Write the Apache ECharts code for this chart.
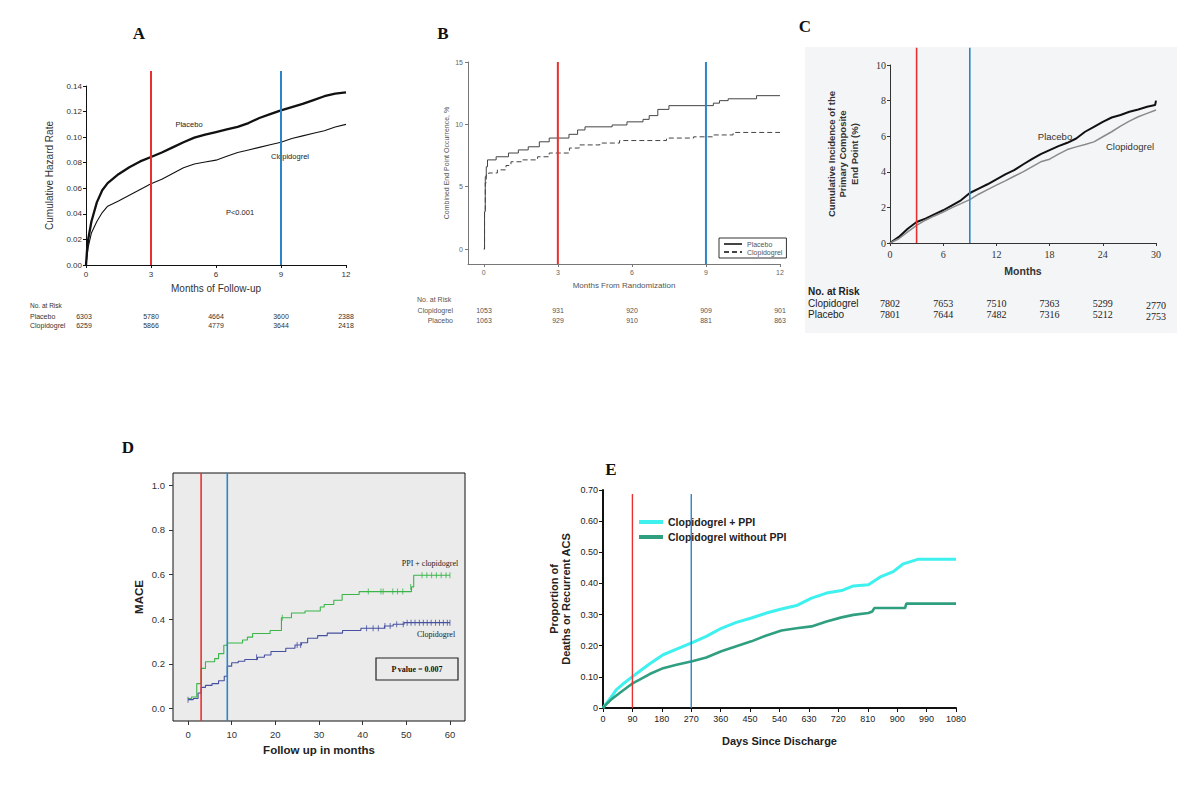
<!DOCTYPE html>
<html>
<head>
<meta charset="utf-8">
<script src="https://cdn.jsdelivr.net/npm/echarts@6/dist/echarts.min.js"></script>
<style>
  html, body { margin: 0; background: #fff; }
  #chart { width: 1200px; height: 785px; }
</style>
</head>
<body>
<div id="chart"></div>
<script>
// reference marks (months / days)
const refMonths = [3, 9]
const refDays = [90, 270]

// A: cumulative hazard rate
const aPlacebo = [[0,0],[0.05,0.012],[0.1,0.02],[0.25,0.034],[0.5,0.049],[0.75,0.0585],[1,0.064],[1.5,0.071],[2,0.0765],[2.5,0.081],[3,0.0845],[3.5,0.088],[4,0.092],[4.5,0.096],[5,0.0996],[5.5,0.102],[6,0.104],[6.5,0.106],[7,0.108],[7.5,0.111],[8,0.115],[8.5,0.118],[9,0.121],[9.5,0.1235],[10,0.126],[10.5,0.129],[11,0.132],[11.5,0.134],[12,0.135]]
const aClopidogrel = [[0,0],[0.05,0.007],[0.1,0.014],[0.25,0.025],[0.5,0.034],[0.75,0.041],[1,0.046],[1.5,0.05],[2,0.0545],[2.5,0.059],[3,0.0635],[3.5,0.067],[4,0.0715],[4.5,0.076],[5,0.079],[5.5,0.0805],[6,0.082],[6.5,0.085],[7,0.088],[7.5,0.09],[8,0.092],[8.5,0.094],[9,0.096],[9.5,0.099],[10,0.101],[10.5,0.103],[11,0.105],[11.5,0.108],[12,0.11]]
const aRiskPlacebo = ['6303', '5780', '4664', '3600', '2388']
const aRiskClopidogrel = ['6259', '5866', '4779', '3644', '2418']

// B: combined end point occurrence (%), step curves
const bPlacebo = [[0,0],[0.03,3.0],[0.06,5.8],[0.1,6.6],[0.15,7.15],[0.5,7.4],[1.0,7.7],[1.4,7.95],[1.8,8.2],[2.25,8.6],[2.65,8.9],[3.45,9.2],[3.8,9.55],[4.1,9.8],[5.2,9.95],[5.8,10.2],[6.45,10.4],[6.7,10.7],[7.05,11.2],[7.5,11.5],[9.3,11.7],[9.55,11.9],[9.9,12.05],[11.05,12.3],[12,12.3]]
const bClopidogrel = [[0,0],[0.03,3.0],[0.06,5.3],[0.1,5.95],[0.2,6.1],[0.55,6.35],[0.9,6.7],[1.1,7.0],[1.57,7.15],[2.18,7.4],[2.65,7.7],[3.47,8.1],[3.87,8.35],[4.7,8.5],[5.5,8.7],[7.4,8.9],[8.5,9.0],[9.3,9.15],[10.1,9.35],[12,9.35]]
const bTicksX = [0, 3, 6, 9, 12]
const bTicksY = [0, 5, 10, 15]
const bRiskClopidogrel = ['1053', '931', '920', '909', '901']
const bRiskPlacebo = ['1063', '929', '910', '881', '863']

// C: cumulative incidence of primary composite end point (%)
const cPlacebo = [[0,0],[1,0.34],[2,0.8],[3,1.18],[4,1.37],[5,1.61],[6,1.84],[7,2.12],[8,2.4],[9,2.81],[10,3.06],[11,3.3],[12,3.58],[13,3.85],[14,4.09],[15,4.41],[16,4.71],[17,4.99],[18,5.22],[19,5.44],[20,5.63],[21,5.87],[22,6.25],[23,6.53],[24,6.81],[25,7.05],[26,7.19],[27,7.37],[28,7.5],[29,7.65],[29.9,7.75],[30,8.0]]
const cClopidogrel = [[0,0],[1,0.24],[2,0.62],[3,0.99],[4,1.28],[5,1.52],[6,1.74],[7,1.99],[8,2.21],[9,2.44],[10,2.74],[11,3.0],[12,3.25],[13,3.49],[14,3.75],[15,4.0],[16,4.28],[17,4.56],[18,4.71],[19,4.99],[20,5.25],[21,5.4],[22,5.53],[23,5.68],[24,5.97],[25,6.25],[26,6.57],[27,6.85],[28,7.09],[29,7.28],[30,7.47]]
const cRiskClopidogrel = ['7802', '7653', '7510', '7363', '5299', '2770']
const cRiskPlacebo = ['7801', '7644', '7482', '7316', '5212', '2753']

// D: MACE, Kaplan-Meier step curves with censor marks
const dPpi = [[0,0.045],[0.8,0.052],[2,0.112],[3,0.18],[4,0.21],[6.1,0.224],[7,0.246],[8.2,0.284],[9,0.294],[12.5,0.307],[13.6,0.32],[14.8,0.336],[18.8,0.35],[21.4,0.407],[23.7,0.428],[26.8,0.437],[30.3,0.455],[31.2,0.466],[33.4,0.485],[35.3,0.511],[39.2,0.524],[51.2,0.545],[51.7,0.597],[60,0.597]]
const dClopidogrel = [[0,0.04],[1.2,0.045],[2.3,0.07],[3,0.095],[4,0.104],[5.5,0.112],[7,0.125],[8.3,0.145],[9,0.19],[10,0.205],[11.5,0.212],[13,0.22],[15.9,0.23],[17.5,0.24],[19,0.256],[22.4,0.27],[24.5,0.285],[26,0.295],[27.4,0.315],[29.7,0.327],[31.9,0.338],[35.4,0.35],[39.6,0.36],[45,0.37],[47,0.378],[49.5,0.385],[60,0.385]]
const dPpiCensor = [[21.6,0.407],[41.3,0.524],[44.2,0.524],[44.7,0.524],[46.9,0.524],[48.0,0.524],[49.2,0.524],[51.0,0.545],[53.6,0.597],[54.7,0.597],[55.8,0.597],[56.9,0.597],[58.0,0.597],[59.1,0.597],[60,0.597]]
const dClopidogrelCensor = [[0,0.04],[15.7,0.23],[25,0.285],[25.8,0.285],[40.9,0.36],[42.4,0.36],[43.6,0.36],[45.1,0.37],[46.3,0.37],[47.8,0.378],[49.3,0.378],[50.2,0.385],[51.1,0.385],[52,0.385],[53,0.385],[53.9,0.385],[54.8,0.385],[55.7,0.385],[56.7,0.385],[57.6,0.385],[58.5,0.385],[59.4,0.385],[60,0.385]]
const dTicksX = [0, 10, 20, 30, 40, 50, 60]
const dTicksY = [0, 0.2, 0.4, 0.6, 0.8, 1.0]

// E: proportion of deaths or recurrent ACS
const ePpi = [[0,0],[10,0.015],[25,0.035],[41,0.059],[61,0.077],[89,0.1],[112,0.118],[143,0.142],[184,0.171],[225,0.189],[273,0.21],[316,0.23],[362,0.256],[408,0.275],[454,0.289],[500,0.305],[546,0.318],[592,0.329],[638,0.353],[684,0.369],[730,0.377],[766,0.392],[812,0.396],[847,0.42],[888,0.438],[919,0.463],[965,0.478],[1080,0.478]]
const eNoPpi = [[0,0],[10,0.012],[25,0.027],[41,0.04],[61,0.056],[89,0.078],[112,0.091],[143,0.109],[184,0.128],[225,0.139],[273,0.15],[316,0.162],[362,0.182],[408,0.198],[454,0.214],[500,0.233],[546,0.249],[592,0.256],[638,0.262],[684,0.278],[730,0.291],[766,0.299],[812,0.305],[824,0.31],[830,0.321],[924,0.321],[928,0.335],[1080,0.335]]

const RED = '#e8302f'
const BLUE = '#2a86c9'
const SANS = 'Liberation Sans'
const SERIF = 'Liberation Serif'

const chart = echarts.init(document.getElementById('chart'), null, { renderer: 'svg' })

const txt = (x, y, text, font, fill = '#222', align = 'left') => ({
  type: 'text', x, y, silent: true,
  style: { text, font, fill, align, verticalAlign: 'middle' },
})

const lineSeries = (name, idx, data, color, width, extra = {}) => ({
  type: 'line', name, xAxisIndex: idx, yAxisIndex: idx, data,
  symbol: 'none', smooth: false, silent: true,
  lineStyle: { color, width }, itemStyle: { color }, ...extra,
})

// vertical red / blue reference lines, drawn past the plot top where needed
const refSeries = (idx, values, y0, y1, width) => values.map((v, i) => lineSeries(
  `ref${idx}-${i}`, idx, [[v, y0], [v, y1]], i === 0 ? RED : BLUE, width, { clip: false, z: 4 }))

const censor = (name, idx, data, color) => ({
  type: 'scatter', name, xAxisIndex: idx, yAxisIndex: idx, data, silent: true,
  symbol: 'rect', symbolSize: [1, 6], itemStyle: { color }, z: 3,
})

const grids = [
  { left: 86, top: 86, width: 260, height: 179 },
  { left: 468, top: 62, width: 312, height: 202 },
  { left: 890, top: 65, width: 266, height: 178 },
  { left: 173, top: 473, width: 292, height: 248, show: true, backgroundColor: '#ebebeb', borderColor: '#111', borderWidth: 1 },
  { left: 603, top: 490, width: 353, height: 218 },
]

const axisBase = (idx, color, fontSize, fontFamily, labelColor, extra = {}) => ({
  gridIndex: idx, type: 'value',
  axisLine: { show: true, onZero: false, lineStyle: { color, width: 1 } },
  axisTick: { show: true, length: 3, lineStyle: { color } },
  axisLabel: { fontSize, fontFamily, color: labelColor, showMinLabel: true, showMaxLabel: true },
  splitLine: { show: false },
  nameLocation: 'middle',
  ...extra,
})

const xAxis = [
  axisBase(0, '#111', 8, SANS, '#333', { min: 0, max: 12, interval: 3, name: 'Months of Follow-up', nameGap: 18,
    nameTextStyle: { fontSize: 10, fontFamily: SANS, color: '#333' } }),
  axisBase(1, '#777', 7, SANS, '#666', { min: -0.64, max: 12, name: 'Months From Randomization', nameGap: 17,
    nameTextStyle: { fontSize: 8, fontFamily: SANS, color: '#555' } }),
  axisBase(2, '#333', 10, SERIF, '#333', { min: 0, max: 30, interval: 6, name: 'Months', nameGap: 22,
    nameTextStyle: { fontSize: 10.5, fontFamily: SANS, fontWeight: 'bold', color: '#333' } }),
  axisBase(3, '#333', 9.5, SANS, '#333', { min: -3.44, max: 63.45, name: 'Follow up in months', nameGap: 23,
    nameTextStyle: { fontSize: 11.5, fontFamily: SANS, fontWeight: 'bold', color: '#222' } }),
  axisBase(4, '#111', 9, SANS, '#222', { min: 0, max: 1080, interval: 90, name: 'Days Since Discharge', nameGap: 27,
    nameTextStyle: { fontSize: 11, fontFamily: SANS, fontWeight: 'bold', color: '#222' } }),
]
xAxis[0].axisLabel.margin = 5
xAxis[1].axisLabel = { ...xAxis[1].axisLabel, customValues: bTicksX, margin: 5 }
xAxis[1].axisTick = { ...xAxis[1].axisTick, customValues: bTicksX }
xAxis[2].axisLabel.margin = 6
xAxis[3].axisLine.show = false
xAxis[3].axisLabel = { ...xAxis[3].axisLabel, customValues: dTicksX, margin: 8 }
xAxis[3].axisTick = { ...xAxis[3].axisTick, customValues: dTicksX, length: 4 }
xAxis[4].axisLine.lineStyle.width = 2
xAxis[4].axisTick.length = 4
xAxis[4].axisLabel = { ...xAxis[4].axisLabel, formatter: v => String(v), margin: 6 }

const yAxis = [
  axisBase(0, '#111', 8, SANS, '#333', { min: 0, max: 0.14, interval: 0.02, name: 'Cumulative Hazard Rate', nameGap: 32,
    nameTextStyle: { fontSize: 10, fontFamily: SANS, color: '#333' } }),
  axisBase(1, '#777', 7, SANS, '#666', { min: -1.2, max: 15, name: 'Combined End Point Occurrence, %', nameGap: 18,
    nameTextStyle: { fontSize: 7, fontFamily: SANS, color: '#555' } }),
  axisBase(2, '#333', 10, SERIF, '#333', { min: 0, max: 10, interval: 2,
    name: 'Cumulative Incidence of the\nPrimary Composite\nEnd Point (%)', nameGap: 30,
    nameTextStyle: { fontSize: 9.5, lineHeight: 11.5, fontFamily: SANS, fontWeight: 'bold', color: '#333' } }),
  axisBase(3, '#333', 9.5, SANS, '#333', { min: -0.0555, max: 1.055, name: 'MACE', nameGap: 28,
    nameTextStyle: { fontSize: 11.5, fontFamily: SANS, fontWeight: 'bold', color: '#222' } }),
  axisBase(4, '#111', 9, SANS, '#222', { min: 0, max: 0.7, interval: 0.1,
    name: 'Proportion of\nDeaths or Recurrent ACS', nameGap: 31,
    nameTextStyle: { fontSize: 11, lineHeight: 12, fontFamily: SANS, fontWeight: 'bold', color: '#222' } }),
]
yAxis[0].axisLabel = { ...yAxis[0].axisLabel, formatter: v => v.toFixed(2), margin: 4 }
yAxis[1].axisLabel = { ...yAxis[1].axisLabel, customValues: bTicksY, margin: 5 }
yAxis[1].axisTick = { ...yAxis[1].axisTick, customValues: bTicksY }
yAxis[2].axisLabel.margin = 4
yAxis[3].axisLine.show = false
yAxis[3].axisLabel = { ...yAxis[3].axisLabel, customValues: dTicksY, formatter: v => v.toFixed(1), margin: 8 }
yAxis[3].axisTick = { ...yAxis[3].axisTick, customValues: dTicksY, length: 4 }
yAxis[4].axisLine.lineStyle.width = 2
yAxis[4].axisTick.length = 4
yAxis[4].axisLabel = { ...yAxis[4].axisLabel, formatter: v => (v === 0 ? '0' : v.toFixed(2)), margin: 5 }

const series = [
  lineSeries('A Placebo', 0, aPlacebo, '#111', 2.3),
  lineSeries('A Clopidogrel', 0, aClopidogrel, '#111', 1.1),
  ...refSeries(0, refMonths, 0, 0.1517, 2),

  lineSeries('B Placebo', 1, bPlacebo, '#444', 1, { step: 'end' }),
  lineSeries('B Clopidogrel', 1, bClopidogrel, '#444', 1, { step: 'end', lineStyle: { color: '#444', width: 1, type: [5, 3] } }),
  ...refSeries(1, refMonths, -1.2, 15, 2),

  lineSeries('C Placebo', 2, cPlacebo, '#111', 2),
  lineSeries('C Clopidogrel', 2, cClopidogrel, '#8a8a8a', 1.5),
  ...refSeries(2, refMonths, 0, 10.97, 1.6),

  lineSeries('D PPI', 3, dPpi, '#3bb54a', 1.1, { step: 'end' }),
  lineSeries('D Clopidogrel', 3, dClopidogrel, '#4650a0', 1.1, { step: 'end' }),
  censor('D PPI censor', 3, dPpiCensor, '#3bb54a'),
  censor('D Clopidogrel censor', 3, dClopidogrelCensor, '#4650a0'),
  ...refSeries(3, refMonths, -0.0555, 1.055, 1.6),

  lineSeries('E Clopidogrel + PPI', 4, ePpi, '#3ef0ee', 3),
  lineSeries('E Clopidogrel without PPI', 4, eNoPpi, '#2f9f80', 2.6),
  ...refSeries(4, refDays, 0, 0.687, 1.4),
]

// itemHeight 1 keeps the legend's fallback circle symbol invisible under the line
const legend = [
  {
    data: ['B Placebo', 'B Clopidogrel'], formatter: n => n.slice(2),
    orient: 'vertical', left: 719, top: 238, itemWidth: 18, itemHeight: 1, itemGap: 0,
    padding: [2, 4, 2, 4], borderColor: '#333', borderWidth: 1, selectedMode: false,
    textStyle: { fontSize: 7, lineHeight: 8, fontFamily: SANS, color: '#555' },
  },
  {
    data: ['E Clopidogrel + PPI', 'E Clopidogrel without PPI'], formatter: n => n.slice(2),
    orient: 'vertical', left: 637, top: 516, itemWidth: 24, itemHeight: 1, itemGap: 3, padding: 0,
    selectedMode: false, lineStyle: { width: 4 },
    textStyle: { fontSize: 10.5, lineHeight: 12, fontFamily: SANS, fontWeight: 'bold', color: '#222' },
  },
]

// risk tables and annotations
const colX = (left, width, n) => Array.from({ length: n }, (_, i) => left + (i * width) / (n - 1))
const aCols = colX(86, 260, 5)
const bCols = colX(484, 296, 5)
const cCols = colX(890, 266, 6)

const graphic = [
  { type: 'rect', shape: { x: 805, y: 47, width: 372, height: 286 }, style: { fill: '#f4f5f7' }, z: -10, silent: true },

  txt(139, 33, 'A', `bold 17px ${SERIF}`, '#111', 'center'),
  txt(443, 33, 'B', `bold 17px ${SERIF}`, '#111', 'center'),
  txt(805, 26, 'C', `bold 17px ${SERIF}`, '#111', 'center'),
  txt(128, 447, 'D', `bold 17px ${SERIF}`, '#111', 'center'),
  txt(611, 469, 'E', `bold 17px ${SERIF}`, '#111', 'center'),

  txt(189, 124, 'Placebo', `7.5px ${SANS}`, '#222', 'center'),
  txt(290, 156, 'Clopidogrel', `7.5px ${SANS}`, '#222', 'center'),
  txt(240, 212, 'P<0.001', `7.5px ${SANS}`, '#222', 'center'),
  txt(30, 305, 'No. at Risk', `6.5px ${SANS}`, '#333'),
  txt(30, 316, 'Placebo', `7px ${SANS}`, '#333'),
  txt(30, 325, 'Clopidogrel', `7px ${SANS}`, '#333'),
  ...aRiskPlacebo.map((v, i) => txt(aCols[i] - (i === 0 ? 2 : 0), 316, v, `7px ${SANS}`, '#333', 'center')),
  ...aRiskClopidogrel.map((v, i) => txt(aCols[i] - (i === 0 ? 2 : 0), 325, v, `7px ${SANS}`, '#333', 'center')),

  txt(417, 299, 'No. at Risk', `7px ${SANS}`, '#555'),
  txt(453, 310, 'Clopidogrel', `7px ${SANS}`, '#555', 'right'),
  txt(453, 320, 'Placebo', `7px ${SANS}`, '#555', 'right'),
  ...bRiskClopidogrel.map((v, i) => txt(bCols[i], 310, v, `7px ${SANS}`, '#555', 'center')),
  ...bRiskPlacebo.map((v, i) => txt(bCols[i], 320, v, `7px ${SANS}`, '#555', 'center')),

  txt(1055, 136, 'Placebo', `9.5px ${SANS}`, '#333', 'center'),
  txt(1130, 146, 'Clopidogrel', `9.5px ${SANS}`, '#333', 'center'),
  txt(808, 291, 'No. at Risk', `bold 10px ${SANS}`, '#222'),
  txt(808, 303, 'Clopidogrel', `10px ${SANS}`, '#222'),
  txt(808, 314, 'Placebo', `10px ${SANS}`, '#222'),
  ...cRiskClopidogrel.map((v, i) => txt(cCols[i], i === 5 ? 305 : 303, v, `10px ${SERIF}`, '#222', 'center')),
  ...cRiskPlacebo.map((v, i) => txt(cCols[i], i === 5 ? 316 : 314, v, `10px ${SERIF}`, '#222', 'center')),

  txt(430, 563, 'PPI + clopidogrel', `8px ${SERIF}`, '#222', 'center'),
  txt(436, 634, 'Clopidogrel', `8px ${SERIF}`, '#222', 'center'),
  { type: 'rect', shape: { x: 376, y: 658, width: 82, height: 22 }, style: { fill: 'none', stroke: '#222', lineWidth: 1.2 }, silent: true, z: 10 },
  txt(417, 669, 'P value = 0.007', `bold 8px ${SERIF}`, '#111', 'center'),
]

chart.setOption({
  animation: false,
  backgroundColor: '#fff',
  grid: grids,
  xAxis,
  yAxis,
  legend,
  series,
  graphic,
})
</script>
</body>
</html>
